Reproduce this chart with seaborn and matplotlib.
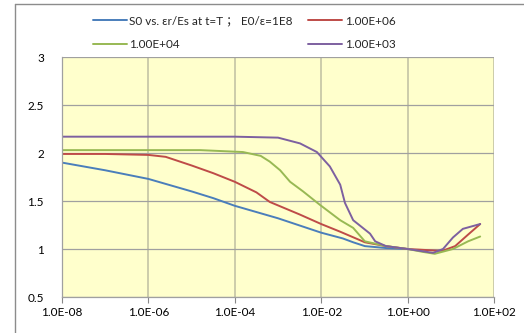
import numpy as np
import pandas as pd
import matplotlib
matplotlib.use("Agg")
import matplotlib.pyplot as plt
import seaborn as sns
from matplotlib.lines import Line2D

# ---- data (log10 of x, y) ----
labels = ["S0 vs. \u03b5r/Es at t=T \uff1b E0/\u03b5=1E8", "1.00E+06", "1.00E+04", "1.00E+03"]
colors = ["#4A7EBB", "#BE4B48", "#98B954", "#7D60A0"]

blue_logx = [-8.0, -7.0, -6.0, -5.0, -4.5, -4.0, -3.0, -2.0, -1.5, -1.26, -0.99, -0.5, 0.0]
blue_y    = [1.90, 1.82, 1.73, 1.60, 1.53, 1.45, 1.32, 1.17, 1.11, 1.07, 1.03, 1.01, 1.00]

red_logx = [-8.0, -7.0, -6.0, -5.6, -5.0, -4.5, -4.0, -3.5, -3.19, -2.5, -2.0, -1.56, -0.99, -0.5, 0.0, 0.4, 0.8, 1.1, 1.4, 1.68]
red_y    = [1.99, 1.99, 1.98, 1.96, 1.87, 1.79, 1.70, 1.59, 1.49, 1.36, 1.26, 1.18, 1.07, 1.03, 1.00, 0.99, 0.98, 1.03, 1.15, 1.26]

green_logx = [-8.0, -6.0, -4.8, -3.81, -3.4, -3.19, -2.95, -2.72, -2.42, -2.03, -1.56, -1.26, -0.99, -0.5, 0.0, 0.35, 0.63, 1.05, 1.4, 1.68]
green_y    = [2.03, 2.03, 2.03, 2.01, 1.97, 1.91, 1.82, 1.70, 1.60, 1.46, 1.30, 1.22, 1.08, 1.03, 1.00, 0.97, 0.95, 1.00, 1.08, 1.13]

purple_logx = [-8.0, -6.0, -4.0, -3.0, -2.49, -2.1, -1.8, -1.56, -1.45, -1.26, -0.87, -0.75, -0.5, 0.0, 0.59, 0.82, 1.05, 1.28, 1.68]
purple_y    = [2.17, 2.17, 2.17, 2.16, 2.10, 2.01, 1.86, 1.67, 1.48, 1.30, 1.16, 1.08, 1.03, 1.00, 0.96, 1.00, 1.12, 1.21, 1.26]

xtick_exps = [-8, -6, -4, -2, 0, 2]
xtick_labels = ["1.0E-08", "1.0E-06", "1.0E-04", "1.0E-02", "1.0E+00", "1.0E+02"]
yticks = [0.5, 1, 1.5, 2, 2.5, 3]
ytick_labels = ["0.5", "1", "1.5", "2", "2.5", "3"]

frames = []
for lab, lx, yy in zip(labels, [blue_logx, red_logx, green_logx, purple_logx],
                       [blue_y, red_y, green_y, purple_y]):
    frames.append(pd.DataFrame({"x": 10.0 ** np.array(lx), "y": yy, "series": lab}))
df = pd.concat(frames, ignore_index=True)

sns.set_theme(style="white")
plt.rcParams["font.family"] = ["Lato", "Noto Sans CJK SC", "DejaVu Sans"]

fig = plt.figure(figsize=(5.24, 3.33), dpi=100)
ax = fig.add_axes([62/524, 1-297/333, (494-62)/524, (297-57)/333])
ax.set_facecolor("#FFFFCC")

sns.lineplot(data=df, x="x", y="y", hue="series", hue_order=labels,
             palette=colors, sort=False, estimator=None, units="series",
             linewidth=1.4, ax=ax, legend=False)

ax.set_xscale("log")
ax.set_xlim(1e-8, 1e2)
ax.set_ylim(0.5, 3)
ax.set_xticks([10.0 ** e for e in xtick_exps])
ax.set_xticklabels(xtick_labels)
ax.xaxis.set_minor_locator(matplotlib.ticker.NullLocator())
ax.set_yticks(yticks)
ax.set_yticklabels(ytick_labels)
ax.set_xlabel("")
ax.set_ylabel("")
ax.tick_params(axis="x", labelsize=8.5, colors="#888888", length=4, width=0.8,
               direction="out", bottom=True, pad=3, labelcolor="black")
ax.tick_params(axis="y", labelsize=8.5, length=0, pad=13, labelcolor="black")
ax.grid(True, which="major", axis="y", color="#A0A0A0", linewidth=0.9)
ax.grid(True, which="major", axis="x", color="#C8C8A8", linewidth=1.3)
ax.set_axisbelow(True)
for s in ["top", "right"]:
    ax.spines[s].set_visible(False)
for s in ["left", "bottom"]:
    ax.spines[s].set_color("#A0A0A0")
    ax.spines[s].set_linewidth(0.9)

# legend, Excel row-wise order
handles = [Line2D([], [], color=c, lw=1.4) for c in colors]
order = [0, 2, 1, 3]
fig.legend([handles[i] for i in order], [labels[i] for i in order],
           loc="upper left", bbox_to_anchor=(82/524, 1-5/333), ncol=2,
           frameon=False, fontsize=8.5, handlelength=2.9, handletextpad=0.2,
           columnspacing=1.3, labelspacing=1.05)

# outer chart frame
fig.add_artist(Line2D([15/524, 15/524], [0, 1-4/333], transform=fig.transFigure,
                      color="#8C8C8C", lw=1.0))
fig.add_artist(Line2D([15/524, 1], [1-4/333, 1-4/333], transform=fig.transFigure,
                      color="#8C8C8C", lw=1.0))

fig.savefig("out.png", dpi=100)
